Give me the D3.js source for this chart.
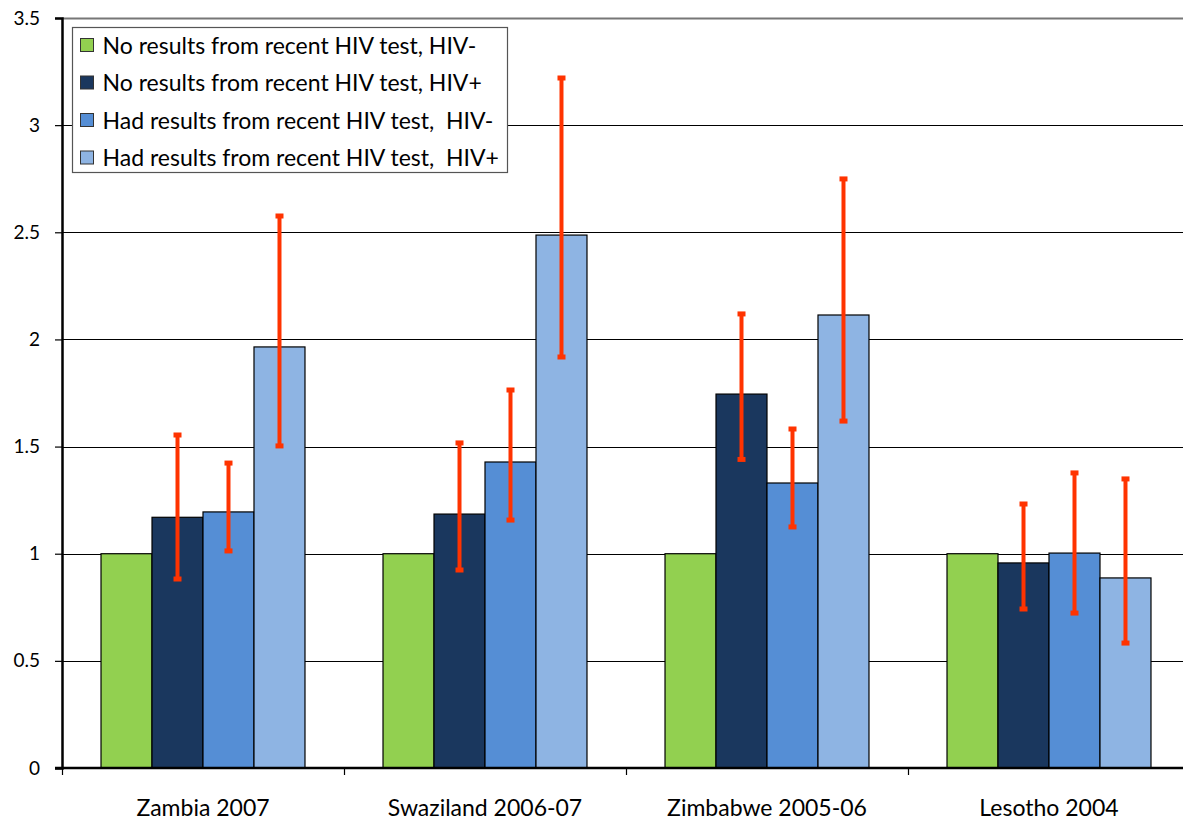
<!DOCTYPE html>
<html>
<head>
<meta charset="utf-8">
<script src="https://cdn.jsdelivr.net/npm/d3@7"></script>
<style>
  body { margin: 0; background: #fff; }
  svg text { font-family: Lato, "Open Sans", sans-serif; fill: #000; }
</style>
</head>
<body>
<div id="chart"></div>
<script>
var width = 1183,
    height = 823;

var categories = ["Zambia 2007", "Swaziland 2006-07", "Zimbabwe 2005-06", "Lesotho 2004"];
var seriesNames = ["No results from recent HIV test, HIV-",
                   "No results from recent HIV test, HIV+",
                   "Had results from recent HIV test,  HIV-",
                   "Had results from recent HIV test,  HIV+"];
var seriesColors = ["#92d050", "#1a375e", "#558ed5", "#8eb4e3"];

// bar values, one array per series (index = category)
var noResNeg  = [1, 1, 1, 1];
var noResPos  = [1.17, 1.185, 1.745, 0.957];
var hadResNeg = [1.195, 1.428, 1.33, 1.003];
var hadResPos = [1.965, 2.487, 2.114, 0.887];

// confidence intervals (no bars for the reference group)
var noResPosLow  = [0.882, 0.924, 1.44, 0.742];
var noResPosHigh = [1.554, 1.517, 2.119, 1.232];
var hadResNegLow  = [1.013, 1.157, 1.125, 0.723];
var hadResNegHigh = [1.423, 1.764, 1.582, 1.377];
var hadResPosLow  = [1.503, 1.918, 1.619, 0.583];
var hadResPosHigh = [2.576, 3.22, 2.749, 1.349];

var yTicks = [0, 0.5, 1, 1.5, 2, 2.5, 3, 3.5];

var values = [noResNeg, noResPos, hadResNeg, hadResPos];
var lows = [null, noResPosLow, hadResNegLow, hadResPosLow];
var highs = [null, noResPosHigh, hadResNegHigh, hadResPosHigh];

var margin = {left: 62, top: 18, right: -7, bottom: 55};

var svg = d3.select("#chart").append("svg")
    .attr("width", width)
    .attr("height", height);

var x0 = d3.scaleBand()
    .domain(categories)
    .range([margin.left, width - margin.right])
    .paddingInner(0)
    .paddingOuter(0);

var x1 = d3.scaleBand()
    .domain(d3.range(seriesNames.length))
    .range([0, x0.bandwidth()])
    .paddingOuter(0.765)
    .paddingInner(0);

var y = d3.scaleLinear()
    .domain([0, 3.5])
    .range([height - margin.bottom, margin.top]);

// gridlines
svg.append("g")
  .selectAll("line")
  .data(yTicks.filter(function(d){ return d > 0; }))
  .enter().append("line")
    .attr("x1", margin.left)
    .attr("x2", width)
    .attr("y1", function(d){ return Math.round(y(d)) + 0.5; })
    .attr("y2", function(d){ return Math.round(y(d)) + 0.5; })
    .attr("stroke", function(d){ return d == 3.5 ? "#777" : "#000"; })
    .attr("stroke-width", function(d){ return d == 3.5 ? 2 : 1.2; });

// bars
var groups = svg.append("g")
  .selectAll("g")
  .data(categories)
  .enter().append("g")
    .attr("transform", function(d){ return "translate(" + x0(d) + ",0)"; });

groups.selectAll("rect")
  .data(function(d, ci){ return values.map(function(s, si){ return {si: si, v: s[ci]}; }); })
  .enter().append("rect")
    .attr("x", function(d){ return x1(d.si); })
    .attr("width", x1.bandwidth())
    .attr("y", function(d){ return y(d.v); })
    .attr("height", function(d){ return y(0) - y(d.v); })
    .attr("fill", function(d){ return seriesColors[d.si]; })
    .attr("stroke", "#000")
    .attr("stroke-width", 1.2);

// error bars
var errs = groups.selectAll("g.err")
  .data(function(d, ci){
    var out = [];
    values.forEach(function(s, si){
      if (lows[si]) out.push({si: si, lo: lows[si][ci], hi: highs[si][ci]});
    });
    return out;
  })
  .enter().append("g")
    .attr("class", "err")
    .attr("transform", function(d){ return "translate(" + (x1(d.si) + x1.bandwidth() / 2) + ",0)"; });

errs.append("line")
    .attr("x1", 0).attr("x2", 0)
    .attr("y1", function(d){ return y(d.hi); })
    .attr("y2", function(d){ return y(d.lo); })
    .attr("stroke", "#ff3300")
    .attr("stroke-width", 4);

errs.selectAll("rect.cap")
  .data(function(d){ return [d.hi, d.lo]; })
  .enter().append("rect")
    .attr("class", "cap")
    .attr("x", -4)
    .attr("width", 8)
    .attr("y", function(d){ return y(d) - 2.5; })
    .attr("height", 5)
    .attr("fill", "#ff3300");

// y axis
var yAxis = svg.append("g")
    .attr("transform", "translate(" + margin.left + ",0)")
    .call(d3.axisLeft(y).tickValues(yTicks).tickFormat(d3.format("")).tickSize(7).tickPadding(15));
yAxis.select(".domain").attr("stroke-width", 2.5);
yAxis.selectAll(".tick line").attr("stroke-width", 1.2);
yAxis.selectAll("text").style("font-size", "19px");

// x axis
var xAxis = svg.append("g")
    .attr("transform", "translate(0," + y(0) + ")");
xAxis.append("line")
    .attr("x1", margin.left - 7).attr("x2", width)
    .attr("stroke", "#000").attr("stroke-width", 2.5);
xAxis.selectAll("line.tick")
  .data(categories)
  .enter().append("line")
    .attr("class", "tick")
    .attr("x1", function(d){ return Math.round(x0(d)) + 0.5; })
    .attr("x2", function(d){ return Math.round(x0(d)) + 0.5; })
    .attr("y1", 0).attr("y2", 7)
    .attr("stroke", "#000").attr("stroke-width", 1.2);
xAxis.selectAll("text")
  .data(categories)
  .enter().append("text")
    .attr("x", function(d){ return x0(d) + x0.bandwidth() / 2; })
    .attr("y", 48)
    .attr("text-anchor", "middle")
    .style("font-size", "23px")
    .text(function(d){ return d; });

// legend
var legend = svg.append("g")
    .attr("transform", "translate(72.5,27.5)");
legend.append("rect")
    .attr("width", 435)
    .attr("height", 145)
    .attr("fill", "#fff")
    .attr("stroke", "#555")
    .attr("stroke-width", 1.2);
var items = legend.selectAll("g.item")
  .data(seriesNames)
  .enter().append("g")
    .attr("class", "item")
    .attr("transform", function(d, i){ return "translate(8," + (18 + i * 37.5) + ")"; });
items.append("rect")
    .attr("x", 0).attr("y", -7)
    .attr("width", 13).attr("height", 13)
    .attr("fill", function(d, i){ return seriesColors[i]; })
    .attr("stroke", "#333");
items.append("text")
    .attr("x", 22)
    .attr("y", 8)
    .style("font-size", "23px")
    .style("white-space", "pre")
    .text(function(d){ return d; });
</script>
</body>
</html>
